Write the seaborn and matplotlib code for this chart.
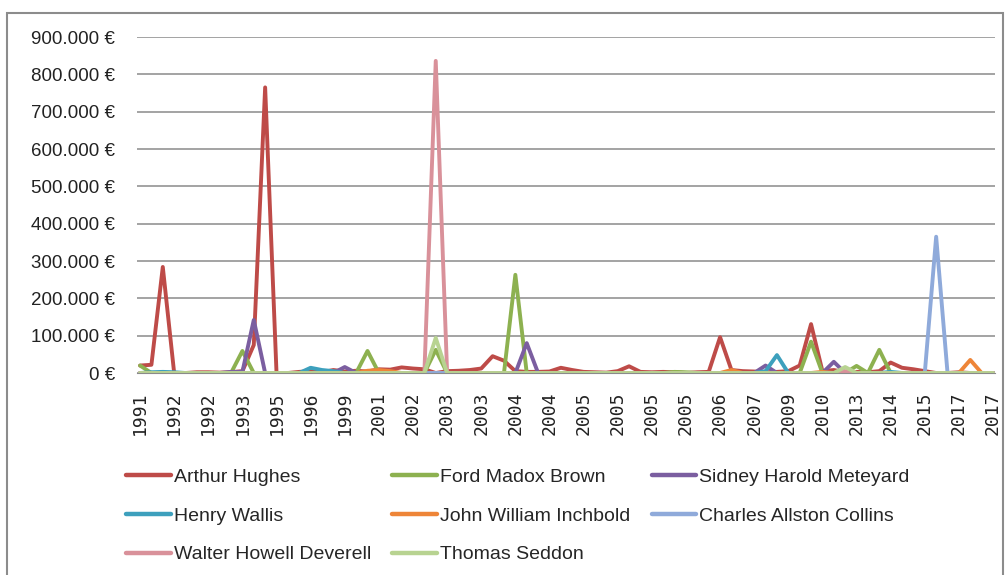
import pandas as pd
import seaborn as sns
import matplotlib.pyplot as plt
from matplotlib.patches import Rectangle
from matplotlib.ticker import FuncFormatter

# tick labels shown on the category axis (every third sale)
year_labels = ['1991', '1992', '1992', '1993', '1995', '1996', '1999', '2001', '2002',
               '2003', '2003', '2004', '2004', '2005', '2005', '2005', '2005', '2006',
               '2007', '2009', '2010', '2013', '2014', '2015', '2017', '2017']

artists = ['Arthur Hughes', 'Ford Madox Brown', 'Sidney Harold Meteyard',
           'Henry Wallis', 'John William Inchbold', 'Charles Allston Collins',
           'Walter Howell Deverell', 'Thomas Seddon']

arthur_hughes = [20000, 22000, 284000, 0, 0, 2000, 2000, 1000, 2000, 5000,
                 75000, 765000, 0, 0, 3000, 5000, 2000, 8000, 4000, 6000,
                 4000, 10000, 9000, 15000, 12000, 10000, 0, 5000, 6000, 8000,
                 12000, 45000, 33000, 5000, 3000, 3000, 4000, 14000, 8000, 3000,
                 2000, 1000, 5000, 18000, 3000, 2000, 3000, 2000, 0, 2000,
                 3000, 96000, 8000, 5000, 4000, 2000, 3000, 5000, 20000, 131000,
                 5000, 8000, 2000, 3000, 2000, 5000, 28000, 14000, 10000, 5000,
                 0, 0, 2000, 0, 0, 0]
ford_madox_brown = [20000, 0, 0, 0, 0, 0, 0, 0, 0, 59000,
                    0, 0, 0, 0, 0, 0, 0, 0, 0, 0,
                    59000, 0, 0, 0, 0, 0, 62000, 0, 0, 0,
                    0, 0, 0, 263000, 0, 0, 0, 0, 0, 0,
                    0, 0, 0, 0, 0, 0, 0, 3000, 2000, 0,
                    0, 0, 0, 0, 0, 0, 0, 0, 0, 84000,
                    0, 0, 0, 19000, 0, 62000, 0, 0, 0, 0,
                    0, 0, 0, 0, 0, 0]
sidney_meteyard = [0, 0, 0, 0, 0, 0, 0, 0, 3000, 3000,
                   142000, 0, 0, 0, 0, 0, 0, 0, 16000, 0,
                   0, 0, 0, 0, 0, 0, 0, 0, 0, 0,
                   0, 0, 0, 0, 80000, 0, 0, 0, 0, 0,
                   0, 0, 0, 0, 0, 0, 0, 0, 0, 0,
                   0, 0, 0, 0, 0, 20000, 0, 0, 0, 0,
                   0, 30000, 0, 0, 0, 0, 0, 0, 0, 0,
                   0, 0, 0, 0, 0, 0]
henry_wallis = [0, 2000, 3000, 2000, 0, 0, 0, 0, 0, 0,
                0, 0, 0, 0, 0, 14000, 8000, 5000, 0, 0,
                0, 0, 0, 0, 0, 0, 0, 0, 0, 0,
                0, 0, 0, 0, 0, 0, 0, 0, 0, 0,
                0, 0, 0, 0, 0, 0, 0, 0, 0, 0,
                0, 0, 0, 0, 0, 5000, 48000, 0, 0, 0,
                0, 0, 0, 0, 0, 0, 3000, 0, 0, 0,
                0, 0, 0, 0, 0, 0]
john_inchbold = [0, 0, 0, 0, 0, 0, 0, 0, 0, 0,
                 0, 0, 0, 0, 0, 0, 0, 0, 0, 0,
                 6000, 8000, 5000, 0, 0, 0, 0, 0, 0, 0,
                 0, 0, 0, 0, 0, 0, 0, 0, 0, 0,
                 0, 0, 0, 0, 0, 0, 0, 0, 0, 0,
                 0, 0, 8000, 0, 0, 0, 0, 0, 0, 0,
                 3000, 0, 0, 0, 0, 0, 0, 0, 0, 0,
                 0, 0, 0, 35000, 0, 0]
charles_collins = [0, 0, 0, 0, 0, 0, 0, 0, 0, 0,
                   0, 0, 0, 0, 0, 0, 0, 0, 0, 0,
                   0, 0, 0, 0, 0, 0, 0, 0, 0, 0,
                   0, 0, 0, 0, 0, 0, 0, 0, 0, 0,
                   0, 0, 0, 0, 0, 0, 0, 0, 0, 0,
                   0, 0, 0, 0, 0, 0, 0, 0, 0, 0,
                   0, 0, 0, 0, 0, 0, 0, 0, 0, 0,
                   365000, 0, 0, 0, 0, 0]
walter_deverell = [0, 0, 0, 0, 0, 0, 0, 0, 0, 0,
                   0, 0, 0, 0, 0, 0, 0, 0, 0, 0,
                   0, 0, 0, 0, 0, 0, 836000, 0, 0, 0,
                   0, 0, 0, 0, 0, 0, 0, 0, 0, 0,
                   0, 0, 0, 0, 0, 0, 0, 0, 0, 0,
                   0, 0, 0, 0, 0, 0, 0, 0, 0, 0,
                   0, 0, 5000, 0, 0, 0, 0, 0, 0, 0,
                   0, 0, 0, 0, 0, 0]
thomas_seddon = [0, 0, 0, 0, 0, 0, 0, 0, 0, 0,
                 0, 0, 0, 0, 0, 0, 0, 0, 0, 0,
                 0, 0, 0, 0, 0, 0, 94000, 0, 0, 0,
                 0, 0, 0, 0, 0, 0, 0, 0, 0, 0,
                 0, 0, 0, 0, 0, 0, 0, 0, 0, 0,
                 0, 0, 0, 0, 0, 0, 0, 0, 0, 0,
                 0, 0, 16000, 0, 0, 0, 0, 0, 0, 0,
                 0, 0, 0, 0, 0, 0]

colors = ['#BE4B48', '#8DB150', '#7B5EA0', '#3DA0BD', '#EE8538',
          '#8FAADA', '#D9919A', '#B8D391']

series = [arthur_hughes, ford_madox_brown, sidney_meteyard, henry_wallis,
          john_inchbold, charles_collins, walter_deverell, thomas_seddon]

frames = []
for name, vals in zip(artists, series):
    frames.append(pd.DataFrame({'sale': range(len(vals)), 'price': vals, 'artist': name}))
df = pd.concat(frames, ignore_index=True)

sns.set_style('white')
plt.rcParams['font.family'] = ['Liberation Sans', 'DejaVu Sans']

fig = plt.figure(figsize=(10.06, 5.75), dpi=100)
ax = fig.add_axes([137.2 / 1006, 1 - 373 / 575, (995.3 - 137.2) / 1006, (373 - 37) / 575])

sns.lineplot(data=df, x='sale', y='price', hue='artist', hue_order=artists,
             palette=dict(zip(artists, colors)), linewidth=2.8, ax=ax, legend=False)

ax.set_xlim(-0.25, 75.2)
ax.set_ylim(0, 900000)
ax.set_yticks(range(0, 900001, 100000))
ax.yaxis.set_major_formatter(FuncFormatter(lambda v, p: f"{int(v):,}".replace(',', '.') + ' €'))
ax.set_xticks(range(0, 76, 3))
ax.set_xticklabels(year_labels, rotation=90, family='DejaVu Sans Mono', fontsize=13)
ax.tick_params(axis='y', length=0, pad=16, labelsize=13.5, labelcolor='#222222')
ax.tick_params(axis='x', length=0, pad=13, labelcolor='#222222')
ax.grid(axis='y', color='#8a8a8a', linewidth=1.1)
ax.grid(axis='x', visible=False)
for s in ['top', 'right', 'left']:
    ax.spines[s].set_visible(False)
ax.spines['bottom'].set_color('#8a8a8a')
ax.set_xlabel('')
ax.set_ylabel('')

# legend laid out row-wise like the original (matplotlib fills columns)
handles = [plt.Line2D([], [], color=c, linewidth=3.2) for c in colors]
order = [0, 3, 6, 1, 4, 7, 2, 5]
fig.legend([handles[i] for i in order], [artists[i] for i in order], ncol=3,
           loc='center', bbox_to_anchor=(518 / 1006, 1 - 516 / 575), frameon=False,
           prop={'family': ['Liberation Sans', 'DejaVu Sans'], 'size': 14},
           handlelength=2.3, handletextpad=0.15, columnspacing=1.1, labelspacing=1.08)

fig.patches.append(Rectangle((7 / 1006, -0.01), 996 / 1006, 1 - 13 / 575 + 0.01,
                             transform=fig.transFigure, fill=False,
                             edgecolor='#8c8c8c', linewidth=1.5))

fig.savefig('out.png', dpi=100)
